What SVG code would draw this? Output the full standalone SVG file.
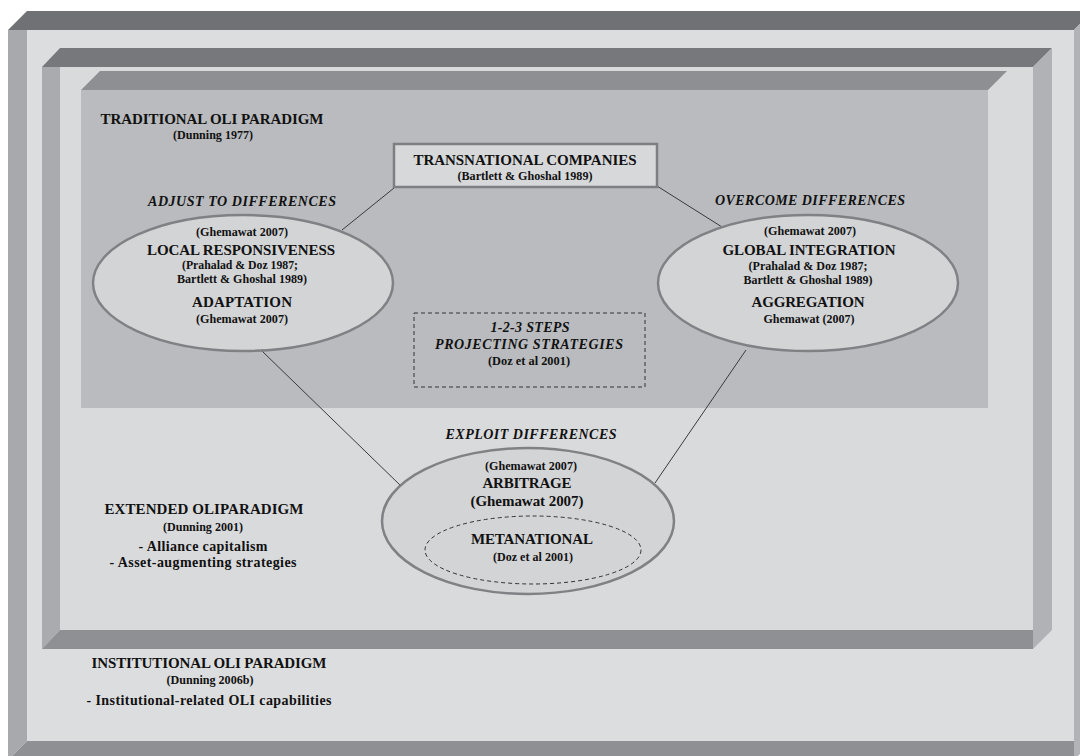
<svg xmlns="http://www.w3.org/2000/svg" width="1080" height="756" viewBox="0 0 1080 756">
<style>
text{font-family:"Liberation Serif","Times New Roman",serif;font-weight:bold;fill:#111;text-anchor:middle}
.h{font-size:15px}
.c{font-size:12px}
.i{font-size:14px;font-style:italic}
.b{font-size:14px}
.ell{fill:#d3d4d6;stroke:#7f8184;stroke-width:2.5}
.dash{fill:none;stroke:#333;stroke-width:1;stroke-dasharray:4 3}
.con{stroke:#3a3a3a;stroke-width:1;fill:none}
</style>
<rect width="1080" height="756" fill="#ffffff"/>
<g id="outer-frame">
<rect x="27" y="30" width="1047" height="711" fill="#dcdddf"/>
<polygon points="8,30 27,11 1093,11 1074,30" fill="#6f7175"/>
<polygon points="8,30 27,30 27,741 8,760" fill="#a7a9ac"/>
<polygon points="1074,30 1093,11 1093,741 1074,760" fill="#b1b3b6"/>
<polygon points="8,760 27,741 1074,741 1074,760" fill="#8e9094"/>
</g>
<g id="middle-frame">
<rect x="60" y="67" width="973" height="563" fill="#d9dadc"/>
<polygon points="42,67 60,48 1052,48 1033,67" fill="#76787c"/>
<polygon points="42,67 60,67 60,630 42,649" fill="#a9abae"/>
<polygon points="1033,67 1052,48 1052,630 1033,649" fill="#b0b2b5"/>
<polygon points="42,649 60,630 1033,630 1033,649" fill="#8e9094"/>
</g>
<g id="inner-box">
<rect x="81" y="90" width="907" height="318" fill="#b9bbbe"/>
<polygon points="81,90 100,71 1007,71 988,90" fill="#8d8f93"/>
</g>
<g id="connectors">
<line class="con" x1="394" y1="188" x2="342" y2="230"/>
<line class="con" x1="657" y1="186" x2="722" y2="227"/>
<line class="con" x1="262" y1="351" x2="401" y2="486"/>
<line class="con" x1="746" y1="350" x2="655" y2="483"/>
</g>
<g id="traditional-label">
<text class="h" x="212" y="124" textLength="223" lengthAdjust="spacing">TRADITIONAL OLI PARADIGM</text>
<text class="c" x="213" y="139" textLength="80" lengthAdjust="spacingAndGlyphs">(Dunning 1977)</text>
</g>
<g id="transnational">
<rect x="394" y="144" width="263" height="43" fill="#d7d8da" stroke="#7d7f82" stroke-width="2.5"/>
<text class="h" x="525" y="165" textLength="223" lengthAdjust="spacing">TRANSNATIONAL COMPANIES</text>
<text class="c" x="525" y="180" textLength="135" lengthAdjust="spacingAndGlyphs">(Bartlett &amp; Ghoshal 1989)</text>
</g>
<g id="local-responsiveness">
<text class="i" x="242" y="206" textLength="188" lengthAdjust="spacing">ADJUST TO DIFFERENCES</text>
<ellipse class="ell" cx="243" cy="283" rx="150" ry="68"/>
<text class="c" x="242" y="236" textLength="92" lengthAdjust="spacingAndGlyphs">(Ghemawat 2007)</text>
<text class="h" x="241" y="255" textLength="188" lengthAdjust="spacing">LOCAL RESPONSIVENESS</text>
<text class="c" x="240" y="269" textLength="116" lengthAdjust="spacingAndGlyphs">(Prahalad &amp; Doz 1987;</text>
<text class="c" x="242" y="283" textLength="130" lengthAdjust="spacingAndGlyphs">Bartlett &amp; Ghoshal 1989)</text>
<text class="h" x="242" y="307" textLength="100" lengthAdjust="spacing">ADAPTATION</text>
<text class="c" x="242" y="323" textLength="92" lengthAdjust="spacingAndGlyphs">(Ghemawat 2007)</text>
</g>
<g id="global-integration">
<text class="i" x="810" y="205" textLength="190" lengthAdjust="spacing">OVERCOME DIFFERENCES</text>
<ellipse class="ell" cx="808" cy="283" rx="150" ry="68"/>
<text class="c" x="810" y="235" textLength="92" lengthAdjust="spacingAndGlyphs">(Ghemawat 2007)</text>
<text class="h" x="809" y="255" textLength="173" lengthAdjust="spacing">GLOBAL INTEGRATION</text>
<text class="c" x="808" y="270" textLength="119" lengthAdjust="spacingAndGlyphs">(Prahalad &amp; Doz 1987;</text>
<text class="c" x="808" y="284" textLength="129" lengthAdjust="spacingAndGlyphs">Bartlett &amp; Ghoshal 1989)</text>
<text class="h" x="808" y="307" textLength="113" lengthAdjust="spacing">AGGREGATION</text>
<text class="c" x="809" y="323" textLength="91" lengthAdjust="spacingAndGlyphs">Ghemawat (2007)</text>
</g>
<g id="projecting-strategies">
<rect class="dash" x="414" y="313" width="231" height="74"/>
<text class="i" x="530" y="332" textLength="79" lengthAdjust="spacing">1-2-3 STEPS</text>
<text class="i" x="529" y="349" textLength="188" lengthAdjust="spacing">PROJECTING STRATEGIES</text>
<text class="c" x="529" y="365" textLength="82" lengthAdjust="spacingAndGlyphs">(Doz et al 2001)</text>
</g>
<g id="arbitrage">
<text class="i" x="531" y="439" textLength="171" lengthAdjust="spacing">EXPLOIT DIFFERENCES</text>
<ellipse class="ell" cx="528" cy="521" rx="146" ry="73"/>
<text class="c" x="531" y="470" textLength="92" lengthAdjust="spacingAndGlyphs">(Ghemawat 2007)</text>
<text class="h" x="527" y="488" textLength="89" lengthAdjust="spacing">ARBITRAGE</text>
<text class="h" x="527" y="506" textLength="113" lengthAdjust="spacing">(Ghemawat 2007)</text>
</g>
<g id="metanational">
<ellipse class="dash" cx="533" cy="550" rx="108" ry="34"/>
<text class="h" x="532" y="544" textLength="122" lengthAdjust="spacing">METANATIONAL</text>
<text class="c" x="533" y="561" textLength="80" lengthAdjust="spacingAndGlyphs">(Doz et al 2001)</text>
</g>
<g id="extended-label">
<text class="h" x="204" y="514" textLength="199" lengthAdjust="spacing">EXTENDED OLIPARADIGM</text>
<text class="c" x="203" y="531" textLength="80" lengthAdjust="spacingAndGlyphs">(Dunning 2001)</text>
<text class="b" x="203" y="551" textLength="129" lengthAdjust="spacing">- Alliance capitalism</text>
<text class="b" x="203" y="567" textLength="187" lengthAdjust="spacing">- Asset-augmenting strategies</text>
</g>
<g id="institutional-label">
<text class="h" x="209" y="668" textLength="235" lengthAdjust="spacing">INSTITUTIONAL OLI PARADIGM</text>
<text class="c" x="210" y="684" textLength="87" lengthAdjust="spacingAndGlyphs">(Dunning 2006b)</text>
<text class="b" x="209" y="705" textLength="245" lengthAdjust="spacing">- Institutional-related OLI capabilities</text>
</g>
</svg>
